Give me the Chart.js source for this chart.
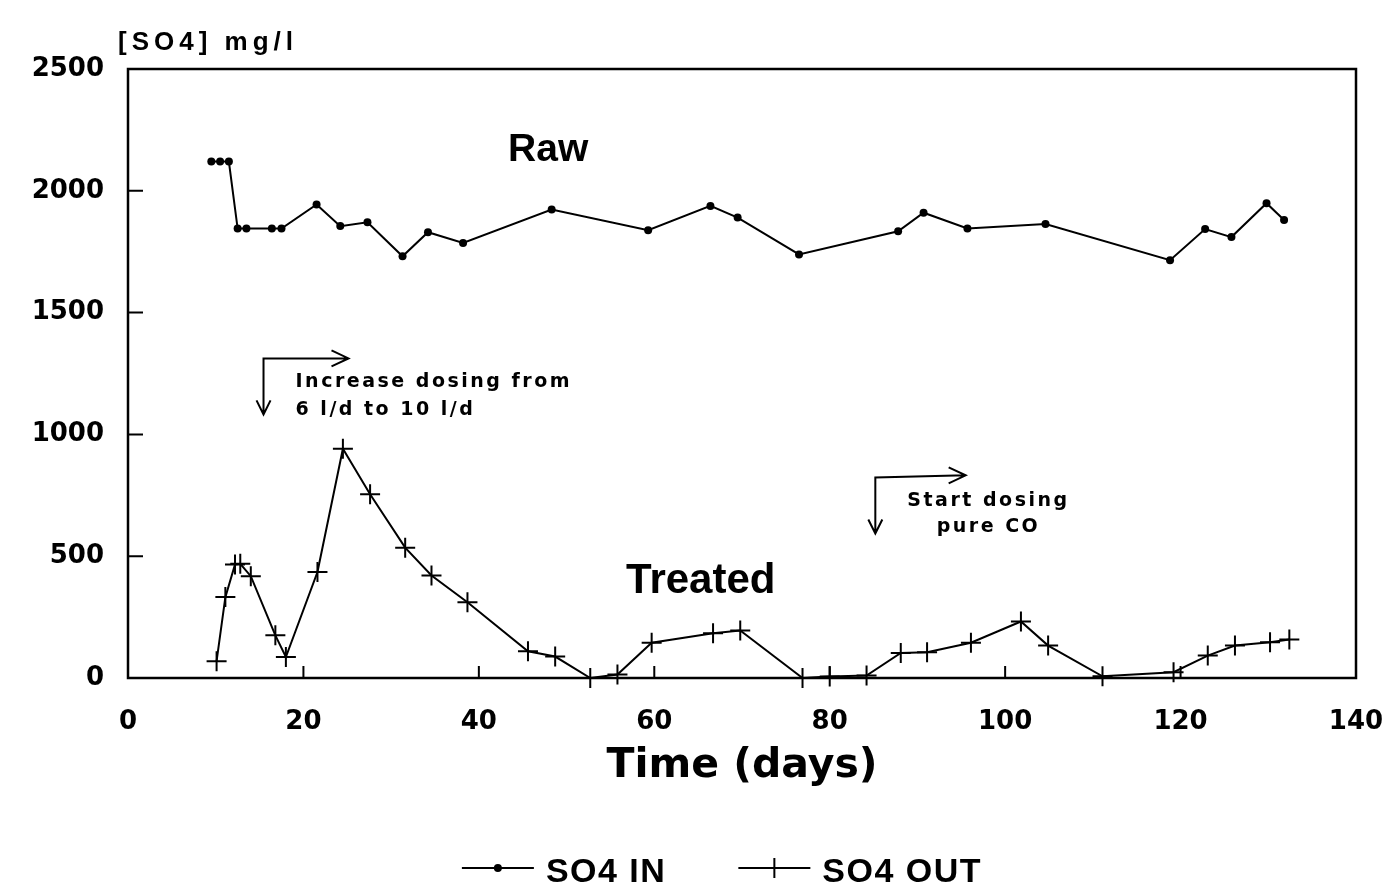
<!DOCTYPE html>
<html>
<head>
<meta charset="utf-8">
<script src="https://cdn.jsdelivr.net/npm/chart.js@4.4.1/dist/chart.umd.min.js"></script>
<style>
  html, body { margin: 0; padding: 0; background: #fff; }
  #wrap { width: 1387px; height: 886px; position: relative; }
</style>
</head>
<body>
<div id="wrap"><canvas id="c" width="1387" height="886"></canvas></div>
<script>
// ---- Data ----
const inDays   = [9.5, 10.5, 11.5, 12.5, 13.5, 16.4, 17.5, 21.5, 24.2, 27.3, 31.3, 34.2, 38.2, 48.3, 59.3, 66.4, 69.5, 76.5, 87.8, 90.7, 95.7, 104.6, 118.8, 122.8, 125.8, 129.8, 131.8];
const inValues = [2120, 2120, 2120, 1845, 1845, 1845, 1845, 1944, 1855, 1871, 1731, 1830, 1786, 1923, 1838, 1938, 1890, 1739, 1834, 1910, 1845, 1864, 1715, 1843, 1810, 1949, 1880];

const outDays   = [10.1, 11.1, 12.2, 12.8, 14.0, 16.8, 18.0, 21.6, 24.5, 27.6, 31.6, 34.6, 38.7, 45.6, 48.7, 52.7, 55.8, 59.7, 66.7, 69.8, 76.9, 80.0, 84.2, 88.1, 91.1, 96.1, 101.8, 104.9, 111.1, 119.2, 123.1, 126.2, 130.2, 132.4];
const outValues = [69, 332, 466, 469, 418, 175, 86, 435, 941, 754, 535, 421, 311, 110, 88, 0, 14, 145, 184, 195, 0, 6, 10, 103, 106, 145, 232, 133, 7, 24, 92, 133, 147, 158];

const seriesLabels = ['SO4 IN', 'SO4 OUT'];
const xTicks = [0, 20, 40, 60, 80, 100, 120, 140];
const yTicks = [0, 500, 1000, 1500, 2000, 2500];
const yAxisLabel = '[SO4] mg/l';
const xAxisLabel = 'Time (days)';

// annotations (data coordinates)
const seriesNotes = [
  { text: 'Raw', x: 47.9, y: 2121 },
  { text: 'Treated', x: 65.3, y: 347 }
];
const eventNotes = [
  { lines: ['Increase dosing from', '6 l/d to 10 l/d'], align: 'left', tx: 19.1, ty: [1193, 1078],
    ax: 15.45, atop: 1312, abottom: 1082, aright: 25.14, arightY: 1312 },
  { lines: ['Start dosing', 'pure CO'], align: 'center', tx: 98.1, ty: [708, 598],
    ax: 85.2, atop: 823, abottom: 593, aright: 95.5, arightY: 832 }
];

const inData = inDays.map((d, i) => ({ x: d, y: inValues[i] }));
const outData = outDays.map((d, i) => ({ x: d, y: outValues[i] }));

const decor = {
  id: 'decor',
  afterDraw(chart) {
    const ctx = chart.ctx;
    const a = chart.chartArea;
    const xs = chart.scales.x, ys = chart.scales.y;
    ctx.save();
    ctx.strokeStyle = '#000';
    ctx.fillStyle = '#000';
    // frame
    ctx.lineWidth = 2.5;
    ctx.strokeRect(a.left, a.top, a.right - a.left, a.bottom - a.top);
    // inward ticks
    ctx.lineWidth = 2;
    ctx.beginPath();
    yTicks.forEach(v => {
      if (v === 0 || v === 2500) return;
      const py = ys.getPixelForValue(v);
      ctx.moveTo(a.left, py); ctx.lineTo(a.left + 15, py);
    });
    xTicks.forEach(v => {
      if (v === 0 || v === 140) return;
      const px = xs.getPixelForValue(v);
      ctx.moveTo(px, a.bottom); ctx.lineTo(px, a.bottom - 12);
    });
    ctx.stroke();

    // y axis title (top-left)
    ctx.font = 'bold 26px "Liberation Sans", Arial, sans-serif';
    ctx.letterSpacing = '5px';
    ctx.textAlign = 'left';
    ctx.textBaseline = 'alphabetic';
    ctx.fillText(yAxisLabel, a.left - 10, a.top - 19);

    // series labels
    ctx.letterSpacing = '0px';
    ctx.textAlign = 'center';
    ctx.font = 'bold 39px "Liberation Sans", Arial, sans-serif';
    ctx.fillText(seriesNotes[0].text, xs.getPixelForValue(seriesNotes[0].x), ys.getPixelForValue(seriesNotes[0].y));
    ctx.font = 'bold 42px "Liberation Sans", Arial, sans-serif';
    ctx.fillText(seriesNotes[1].text, xs.getPixelForValue(seriesNotes[1].x), ys.getPixelForValue(seriesNotes[1].y));

    // event notes with bent arrows
    ctx.font = 'bold 19px "DejaVu Sans", sans-serif';
    ctx.letterSpacing = '2.5px';
    eventNotes.forEach(n => {
      ctx.textAlign = n.align;
      n.lines.forEach((t, i) => {
        ctx.fillText(t, xs.getPixelForValue(n.tx), ys.getPixelForValue(n.ty[i]));
      });
      const x0 = xs.getPixelForValue(n.ax);
      const yTop = ys.getPixelForValue(n.atop);
      const yBot = ys.getPixelForValue(n.abottom);
      const xR = xs.getPixelForValue(n.aright);
      const yR = ys.getPixelForValue(n.arightY);
      ctx.lineWidth = 2;
      ctx.beginPath();
      ctx.moveTo(x0, yBot); ctx.lineTo(x0, yTop); ctx.lineTo(xR, yR);
      // down arrow head
      ctx.moveTo(x0 - 7, yBot - 14); ctx.lineTo(x0, yBot); ctx.lineTo(x0 + 7, yBot - 14);
      // right arrow head
      ctx.moveTo(xR - 17, yR - 8); ctx.lineTo(xR, yR); ctx.lineTo(xR - 17, yR + 8);
      ctx.stroke();
    });

    // legend
    ctx.letterSpacing = '1.5px';
    ctx.font = 'bold 34px "Liberation Sans", Arial, sans-serif';
    ctx.textAlign = 'left';
    const ly = 868, tb = 882;
    const w1 = ctx.measureText(seriesLabels[0]).width;
    const w2 = ctx.measureText(seriesLabels[1]).width;
    const sample = 72, gap1 = 12, gap2 = 72;
    const total = sample + gap1 + w1 + gap2 + sample + gap1 + w2;
    let lx = 722 - total / 2;
    ctx.lineWidth = 2;
    ctx.beginPath(); ctx.moveTo(lx, ly); ctx.lineTo(lx + sample, ly); ctx.stroke();
    ctx.beginPath(); ctx.arc(lx + sample / 2, ly, 4, 0, Math.PI * 2); ctx.fill();
    ctx.fillText(seriesLabels[0], lx + sample + gap1, tb);
    lx = lx + sample + gap1 + w1 + gap2;
    ctx.beginPath(); ctx.moveTo(lx, ly); ctx.lineTo(lx + sample, ly);
    ctx.moveTo(lx + sample / 2, ly - 10); ctx.lineTo(lx + sample / 2, ly + 10); ctx.stroke();
    ctx.fillText(seriesLabels[1], lx + sample + gap1, tb);
    ctx.restore();
  }
};

const tickFont = { family: '"DejaVu Sans", sans-serif', size: 26, weight: 'bold' };

new Chart(document.getElementById('c'), {
  type: 'scatter',
  data: {
    datasets: [
      { label: seriesLabels[0], data: inData, showLine: true, borderColor: '#000', backgroundColor: '#000',
        borderWidth: 2, pointStyle: 'circle', pointRadius: 4, pointBorderWidth: 0, tension: 0, clip: false },
      { label: seriesLabels[1], data: outData, showLine: true, borderColor: '#000', backgroundColor: '#000',
        borderWidth: 2, pointStyle: 'cross', pointRadius: 10, pointBorderWidth: 2, tension: 0, clip: false }
    ]
  },
  options: {
    responsive: false,
    animation: false,
    devicePixelRatio: 1,
    layout: { padding: { top: 69, right: 31, left: 0, bottom: 0 } },
    plugins: { legend: { display: false }, tooltip: { enabled: false } },
    scales: {
      x: {
        type: 'linear', min: 0, max: 140,
        afterFit: s => { s.height = 208; s.paddingRight = 0; s.paddingLeft = 0; },
        afterBuildTicks: s => { s.ticks = xTicks.map(v => ({ value: v })); },
        grid: { display: false, drawTicks: false },
        border: { display: false },
        ticks: { color: '#000', font: tickFont, padding: 29, maxRotation: 0, callback: v => String(v) },
        title: { display: true, text: xAxisLabel, color: '#000',
                 font: { family: '"DejaVu Sans", sans-serif', size: 41, weight: 'bold' },
                 padding: { top: 0, bottom: 95 } }
      },
      y: {
        type: 'linear', min: 0, max: 2500,
        afterFit: s => { s.width = 128; s.paddingTop = 0; s.paddingBottom = 0; },
        afterBuildTicks: s => { s.ticks = yTicks.map(v => ({ value: v })); },
        grid: { display: false, drawTicks: false },
        border: { display: false },
        ticks: { color: '#000', font: tickFont, padding: 24, callback: v => String(v) }
      }
    }
  },
  plugins: [decor]
});
</script>
</body>
</html>
